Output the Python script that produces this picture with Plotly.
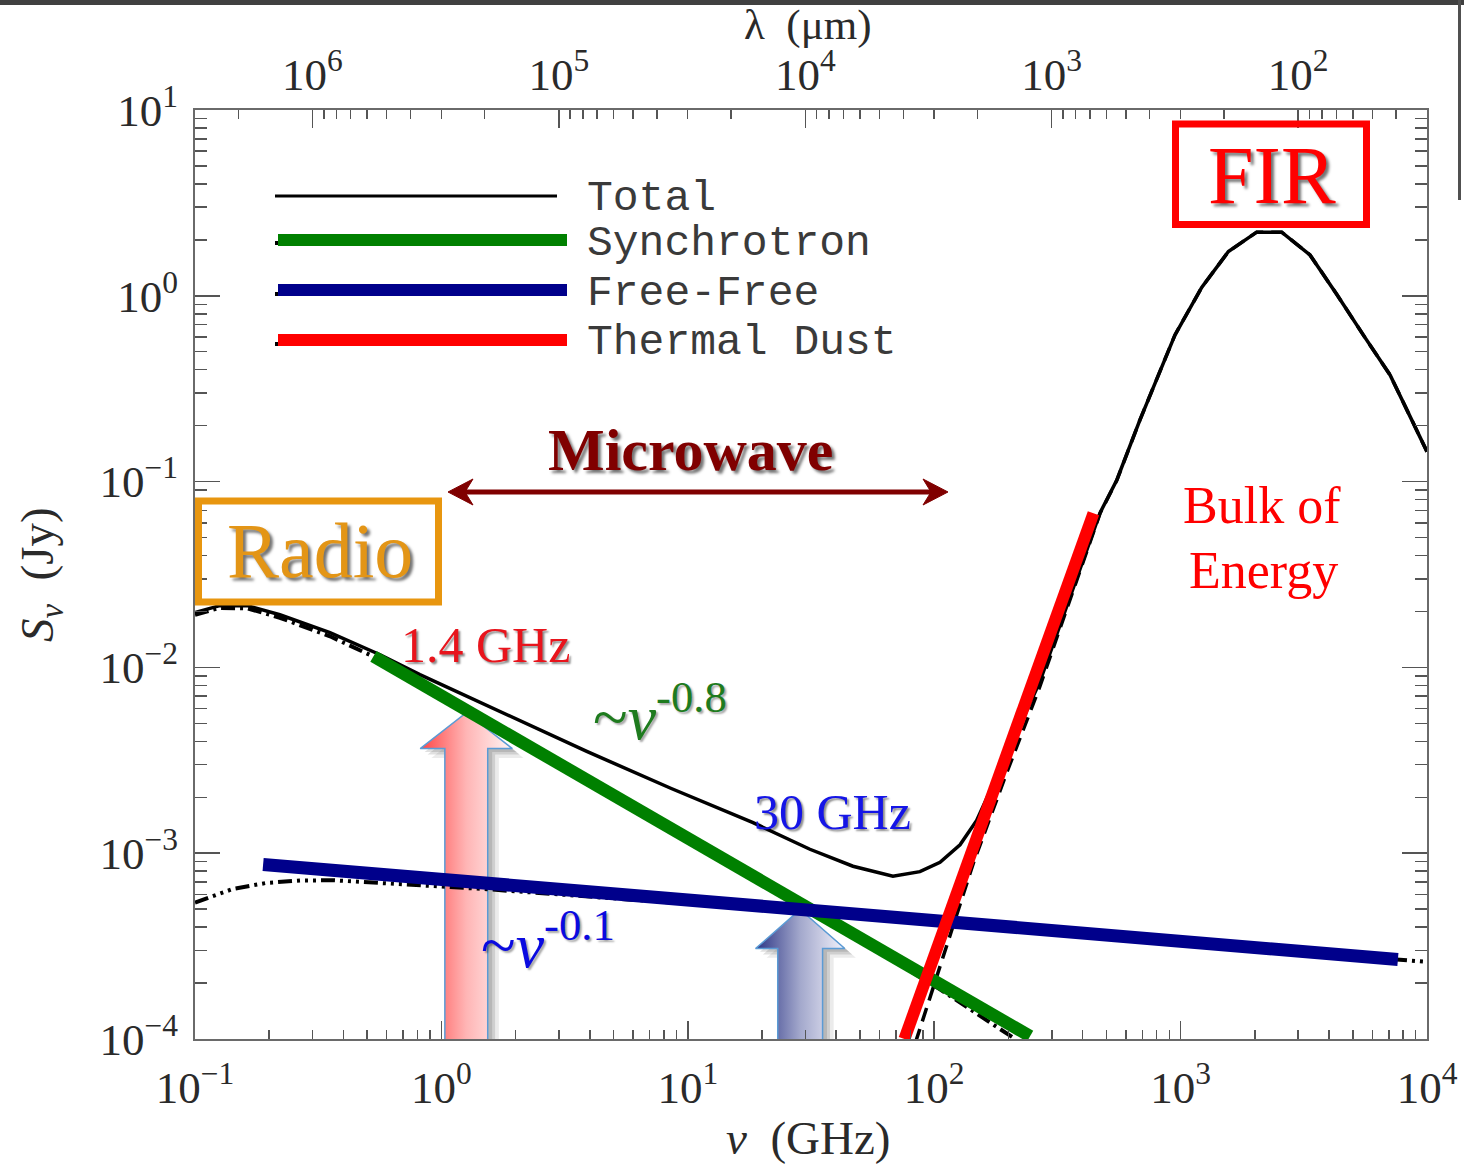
import math
import plotly.graph_objects as go

# ---------------- data ----------------
# Total SED (black solid)
total_freq_ghz = [0.1, 0.126, 0.163, 0.221, 0.353, 0.564, 0.818, 1.73, 3.89, 8.57, 18.4, 31.3,
                  46.8, 68.0, 87.5, 105.6, 127.3, 148.7, 185, 268.5, 471, 551, 684, 949, 1218,
                  1563, 2036, 2572, 3350, 4300, 5510, 7080, 10000]
total_flux_jy = [0.0197, 0.0215, 0.0215, 0.0192, 0.0154, 0.0117, 0.00914, 0.00578, 0.00353,
                 0.00223, 0.00146, 0.00105, 0.000851, 0.000752, 0.000796, 0.000893, 0.00111,
                 0.0015, 0.00282, 0.00838, 0.0679, 0.102, 0.215, 0.616, 1.11, 1.73, 2.20, 2.20,
                 1.66, 1.02, 0.616, 0.375, 0.145]

# Synchrotron model (black dash-dot)
sync_model_freq_ghz = [0.1, 0.126, 0.163, 0.221, 0.353, 0.564, 0.818, 1.73, 3.89, 8.57, 18.4,
                       46.8, 105.6, 213]
sync_model_flux_jy = [0.0192, 0.0209, 0.0208, 0.0185, 0.0147, 0.0110, 0.0084, 0.0047, 0.0025,
                      0.00135, 0.00075, 0.00036, 0.000185, 0.0001]

# Free-free model (black dash-dot-dot-dot)
ff_model_freq_ghz = [0.1, 0.143, 0.195, 0.267, 0.364, 0.659, 1.53, 10, 100, 1000, 10000]
ff_model_flux_jy = [5.42e-4, 6.43e-4, 6.92e-4, 7.13e-4, 7.15e-4, 6.86e-4, 6.4e-4, 5.35e-4,
                    4.2e-4, 3.3e-4, 2.6e-4]

# Thermal dust model (black dashed)
dust_model_freq_ghz = [84, 144.3, 196.7, 268.5, 471, 551, 684, 949, 1218, 1563, 2036, 2572,
                       3350, 4300, 5510, 7080, 10000]
dust_model_flux_jy = [9.6e-5, 8.87e-4, 2.7e-3, 7.9e-3, 0.0675, 0.1015, 0.215, 0.616, 1.11,
                      1.73, 2.20, 2.20, 1.66, 1.02, 0.616, 0.375, 0.145]

# Power-law guides (thick coloured lines)
sync_law_freq_ghz = [0.53, 245]
sync_law_flux_jy = [0.01146, 1.035e-4]
ff_law_freq_ghz = [0.189, 7620]
ff_law_flux_jy = [8.7e-4, 2.68e-4]
dust_law_freq_ghz = [75.7, 443]
dust_law_flux_jy = [1.0e-4, 0.0676]

# Tick labels
x_tick_vals = [0.1, 1, 10, 100, 1000, 10000]
x_tick_text = ["10<sup>−1</sup>", "10<sup>0</sup>", "10<sup>1</sup>", "10<sup>2</sup>",
               "10<sup>3</sup>", "10<sup>4</sup>"]
y_tick_vals = [1e-4, 1e-3, 1e-2, 1e-1, 1, 10]
y_tick_text = ["10<sup>−4</sup>", "10<sup>−3</sup>", "10<sup>−2</sup>", "10<sup>−1</sup>",
               "10<sup>0</sup>", "10<sup>1</sup>"]
lam_tick_vals = [1e6, 1e5, 1e4, 1e3, 1e2]
lam_tick_text = ["10<sup>6</sup>", "10<sup>5</sup>", "10<sup>4</sup>", "10<sup>3</sup>",
                 "10<sup>2</sup>"]

legend_names = ["Total", "Synchrotron", "Free-Free", "Thermal Dust"]

# ---------------- styling ----------------
W, H = 1464, 1166
L, R, T, B = 195, 37, 110, 127
PW, PH = W - L - R, H - T - B
SERIF = "Liberation Serif"
MONO = "Liberation Mono"
AXC = "#6a6a6a"
TXT = "#2a2a2a"
GREEN = "#008000"
BLUE = "#00008B"
RED = "#FF0000"
ORANGE = "#E8960F"
MAROON = "#800000"
C_LIGHT = 2.998e5  # um * GHz


def P(xp, yp):
    """pixel -> paper coordinates (for decorations only)"""
    return (xp - L) / PW, (H - B - yp) / PH


def minor_ticks(lo, hi):
    out = []
    for e in range(-8, 9):
        for m in range(2, 10):
            v = m * 10.0 ** e
            if lo <= v <= hi:
                out.append(v)
    return out


fig = go.Figure()

# ---- gradient arrows (drawn first, below the lines) ----
def arrow_poly(c, sw, hw, tip, base, bottom, dx=0.0, dy=0.0):
    xs = [c - sw, c - sw, c - hw, c, c + hw, c + sw, c + sw, c - sw]
    ys = [bottom, base, base, tip, base, base, bottom, bottom]
    return [10 ** (v + dx) for v in xs], [10 ** (v + dy) for v in ys]

arrows = [
    # centre log(nu), shaft half, head half, tip logS, base logS, bottom logS, colours
    (0.101, 0.087, 0.187, -2.244, -2.437, -4.02, ["#ff4545", "#ffb5b5", "#fff6f6"]),
    (1.456, 0.091, 0.181, -3.303, -3.513, -4.02, ["#2c3585", "#a3a8cc", "#f2f2fb"]),
]
for c, sw, hw, tip, base, bot, cols in arrows:
    for (ddx, ddy, alpha) in [(0.045, -0.05, 0.10), (0.03, -0.032, 0.16), (0.018, -0.018, 0.16)]:
        sx, sy = arrow_poly(c, sw, hw, tip, base, bot, dx=ddx, dy=ddy)
        fig.add_trace(go.Scatter(x=sx, y=sy, mode="lines", fill="toself",
                                 fillcolor=f"rgba(60,60,60,{alpha})", line=dict(width=0),
                                 hoverinfo="skip", showlegend=False))
    ax_, ay_ = arrow_poly(c, sw, hw, tip, base, bot)
    fig.add_trace(go.Scatter(x=ax_, y=ay_, mode="lines", fill="toself",
                             fillgradient=dict(type="horizontal",
                                               colorscale=[[0, cols[0]], [0.5, cols[1]], [1, cols[2]]]),
                             line=dict(color="#5b9bd5", width=1.5),
                             hoverinfo="skip", showlegend=False))

# ---- black model curves ----
fig.add_trace(go.Scatter(x=ff_model_freq_ghz, y=ff_model_flux_jy, mode="lines",
                         line=dict(color="black", width=4,
                                   dash="14px,5px,3px,5px,3px,5px,3px,5px"),
                         name="Free-Free model", showlegend=False))
fig.add_trace(go.Scatter(x=sync_model_freq_ghz, y=sync_model_flux_jy, mode="lines",
                         line=dict(color="black", width=4, dash="14px,5px,3px,5px"),
                         name="Synchrotron model", showlegend=False))
fig.add_trace(go.Scatter(x=dust_model_freq_ghz, y=dust_model_flux_jy, mode="lines",
                         line=dict(color="black", width=3.5, dash="14px,8px"),
                         name="Dust model", showlegend=False))
fig.add_trace(go.Scatter(x=total_freq_ghz, y=total_flux_jy, mode="lines",
                         line=dict(color="black", width=3.5),
                         name="Total", showlegend=False))

# ---- thick power-law lines ----
fig.add_trace(go.Scatter(x=sync_law_freq_ghz, y=sync_law_flux_jy, mode="lines",
                         line=dict(color=GREEN, width=12.5), name="Synchrotron", showlegend=False))
fig.add_trace(go.Scatter(x=ff_law_freq_ghz, y=ff_law_flux_jy, mode="lines",
                         line=dict(color=BLUE, width=13), name="Free-Free", showlegend=False))
fig.add_trace(go.Scatter(x=dust_law_freq_ghz, y=dust_law_flux_jy, mode="lines",
                         line=dict(color=RED, width=12), name="Thermal Dust", showlegend=False))

# invisible trace for the wavelength axis
lam_range = [C_LIGHT / 0.1, C_LIGHT / 1e4]
fig.add_trace(go.Scatter(x=lam_range, y=[1e-4, 1e-4], xaxis="x2", mode="markers",
                         marker=dict(opacity=0), hoverinfo="skip", showlegend=False))

tickfont = dict(family=SERIF, size=45, color=TXT)

fig.update_layout(
    width=W, height=H, autosize=False,
    margin=dict(l=L, r=R, t=T, b=B, pad=0, autoexpand=False),
    paper_bgcolor="white", plot_bgcolor="white",
    showlegend=False,
    xaxis=dict(type="log", range=[-1, 4], tickmode="array", tickvals=x_tick_vals,
               ticktext=x_tick_text, ticks="inside", ticklen=18, tickwidth=1.5,
               tickcolor="#555", showline=True, linecolor=AXC, linewidth=2, automargin=False,
               showgrid=False, zeroline=False, tickfont=tickfont, ticklabelstandoff=8,
               minor=dict(tickmode="array", tickvals=minor_ticks(0.1, 1e4), ticks="inside",
                          ticklen=9, tickwidth=1.5, tickcolor="#555", showgrid=False)),
    xaxis2=dict(type="log", overlaying="x", side="top", anchor="y",
                range=[math.log10(lam_range[0]), math.log10(lam_range[1])],
                tickmode="array", tickvals=lam_tick_vals, ticktext=lam_tick_text,
                ticks="inside", ticklen=18, tickwidth=1.5, tickcolor="#555", automargin=False,
                showline=True, linecolor=AXC, linewidth=2, showgrid=False, zeroline=False,
                tickfont=tickfont, ticklabelstandoff=0,
                minor=dict(tickmode="array", tickvals=minor_ticks(lam_range[1], lam_range[0]),
                           ticks="inside", ticklen=9, tickwidth=1.5, tickcolor="#555",
                           showgrid=False)),
    yaxis=dict(type="log", range=[-4, 1], tickmode="array", tickvals=y_tick_vals,
               ticktext=y_tick_text, ticks="inside", ticklen=25, tickwidth=1.5,
               tickcolor="#555", showline=True, linecolor=AXC, linewidth=2, mirror="ticks",
               automargin=False,
               showgrid=False, zeroline=False, tickfont=tickfont, ticklabelstandoff=6,
               minor=dict(tickmode="array", tickvals=minor_ticks(1e-4, 10), ticks="inside",
                          ticklen=12, tickwidth=1.5, tickcolor="#555", showgrid=False)),
    hovermode=False,
)

shapes = []
annotations = []

# axis titles
annotations.append(dict(xref="paper", yref="paper", x=P(808, 0)[0], y=P(0, 1138)[1],
                        text="<i>ν</i>  (GHz)", showarrow=False, xanchor="center", yanchor="middle",
                        font=dict(family=SERIF, size=47, color=TXT)))
annotations.append(dict(xref="paper", yref="paper", x=P(808, 0)[0], y=P(0, 25)[1],
                        text="λ  (μm)", showarrow=False, xanchor="center", yanchor="middle",
                        font=dict(family=SERIF, size=43, color=TXT)))
annotations.append(dict(xref="paper", yref="paper", x=P(40, 0)[0], y=P(0, 575)[1],
                        text="<i>S</i><sub><i>ν</i></sub>  (Jy)", showarrow=False, textangle=-90,
                        xanchor="center", yanchor="middle",
                        font=dict(family=SERIF, size=47, color=TXT)))

# legend (drawn manually)
leg_rows = [
    (196, "black", 3, None, None),
    (240, GREEN, 12, "14px,5px,3px,5px", 243),
    (290, BLUE, 12, "14px,5px,3px,5px,3px,5px,3px,5px", 294),
    (340, RED, 12, "14px,8px", 344),
]
for (yy, col, wdt, dash, yb), name in zip(leg_rows, legend_names):
    if dash is not None:
        x0, y0 = P(275, yb)
        x1, y1 = P(565, yb)
        shapes.append(dict(type="line", xref="paper", yref="paper", x0=x0, y0=y0, x1=x1, y1=y1,
                           line=dict(color="black", width=4, dash=dash)))
        x0, y0 = P(278, yy)
        x1, y1 = P(567, yy)
    else:
        x0, y0 = P(275, yy)
        x1, y1 = P(557, yy)
    shapes.append(dict(type="line", xref="paper", yref="paper", x0=x0, y0=y0, x1=x1, y1=y1,
                       line=dict(color=col, width=wdt)))
    tx, ty = P(585, yy + 3)
    annotations.append(dict(xref="paper", yref="paper", x=tx, y=ty, text=name, showarrow=False,
                            xanchor="left", yanchor="middle",
                            font=dict(family=MONO, size=43, color="#3a3a3a")))

# boxes
x0, y0 = P(198.5, 501)
x1, y1 = P(438.5, 602)
shapes.append(dict(type="rect", xref="paper", yref="paper", x0=x0, y0=y0, x1=x1, y1=y1,
                   line=dict(color=ORANGE, width=7)))
x0, y0 = P(1175.5, 124)
x1, y1 = P(1366.5, 224.5)
shapes.append(dict(type="rect", xref="paper", yref="paper", x0=x0, y0=y0, x1=x1, y1=y1,
                   line=dict(color=RED, width=7)))

# microwave double arrow
ax0, ay0 = P(462, 492)
ax1, ay1 = P(934, 492)
shapes.append(dict(type="line", xref="paper", yref="paper", x0=ax0, y0=ay0, x1=ax1, y1=ay1,
                   line=dict(color=MAROON, width=5)))
def tri(pts):
    s = ""
    for i, (a, b) in enumerate(pts):
        xp, yp = P(a, b)
        s += ("M" if i == 0 else "L") + f" {xp:.5f} {yp:.5f} "
    return s + "Z"
shapes.append(dict(type="path", xref="paper", yref="paper",
                   path=tri([(448, 492), (473, 479), (465, 492), (473, 505)]),
                   fillcolor=MAROON, line=dict(color=MAROON, width=1)))
shapes.append(dict(type="path", xref="paper", yref="paper",
                   path=tri([(948, 492), (923, 479), (931, 492), (923, 505)]),
                   fillcolor=MAROON, line=dict(color=MAROON, width=1)))

# dark frame strips of the original screenshot
x0, y0 = P(0, 0)
x1, y1 = P(W, 5)
shapes.append(dict(type="rect", xref="paper", yref="paper", x0=x0, y0=y0, x1=x1, y1=y1,
                   fillcolor="#404040", line=dict(width=0)))
x0, y0 = P(1458, 0)
x1, y1 = P(1461, 200)
shapes.append(dict(type="rect", xref="paper", yref="paper", x0=x0, y0=y0, x1=x1, y1=y1,
                   fillcolor="#505050", line=dict(width=0)))


def label(xp, yp, text, size, color, bold=False, shadow="3px 3px 3px rgba(0,0,0,0.55)"):
    x, y = P(xp, yp)
    font = dict(family=SERIF, size=size, color=color, weight=("bold" if bold else "normal"))
    if shadow:
        font["shadow"] = shadow
    annotations.append(dict(xref="paper", yref="paper", x=x, y=y, text=text, showarrow=False,
                            xanchor="center", yanchor="middle", font=font))


label(1272, 175, "FIR", 82, RED)
label(320, 550, "Radio", 78, "#E39516")
label(690, 450, "Microwave", 60, MAROON, bold=True)
label(1262, 505, "Bulk of", 52, RED, shadow=None)
label(1263, 570, "Energy", 52, RED, shadow=None)
label(485, 645, "1.4 GHz", 50, "#E8141C", shadow="2px 2px 2px rgba(0,0,0,0.45)")
label(832, 812, "30 GHz", 50, "#1515E6", shadow="2px 2px 2px rgba(0,0,0,0.45)")
label(660, 712, "~<i>ν</i><sup>-0.8</sup>", 64, "#1E7B1E", shadow="2px 2px 2px rgba(0,0,0,0.35)")
label(548, 940, "~<i>ν</i><sup>-0.1</sup>", 64, "#0A0AE0", shadow="2px 2px 2px rgba(0,0,0,0.35)")

fig.update_layout(shapes=shapes, annotations=annotations)
fig.write_html(
    "out.html",
    config={"responsive": False, "displayModeBar": False, "staticPlot": True},
    post_script=("document.documentElement.style.overflow='hidden';"
                 "document.body.style.overflow='hidden';"
                 "document.body.style.margin='0px';"),
)
